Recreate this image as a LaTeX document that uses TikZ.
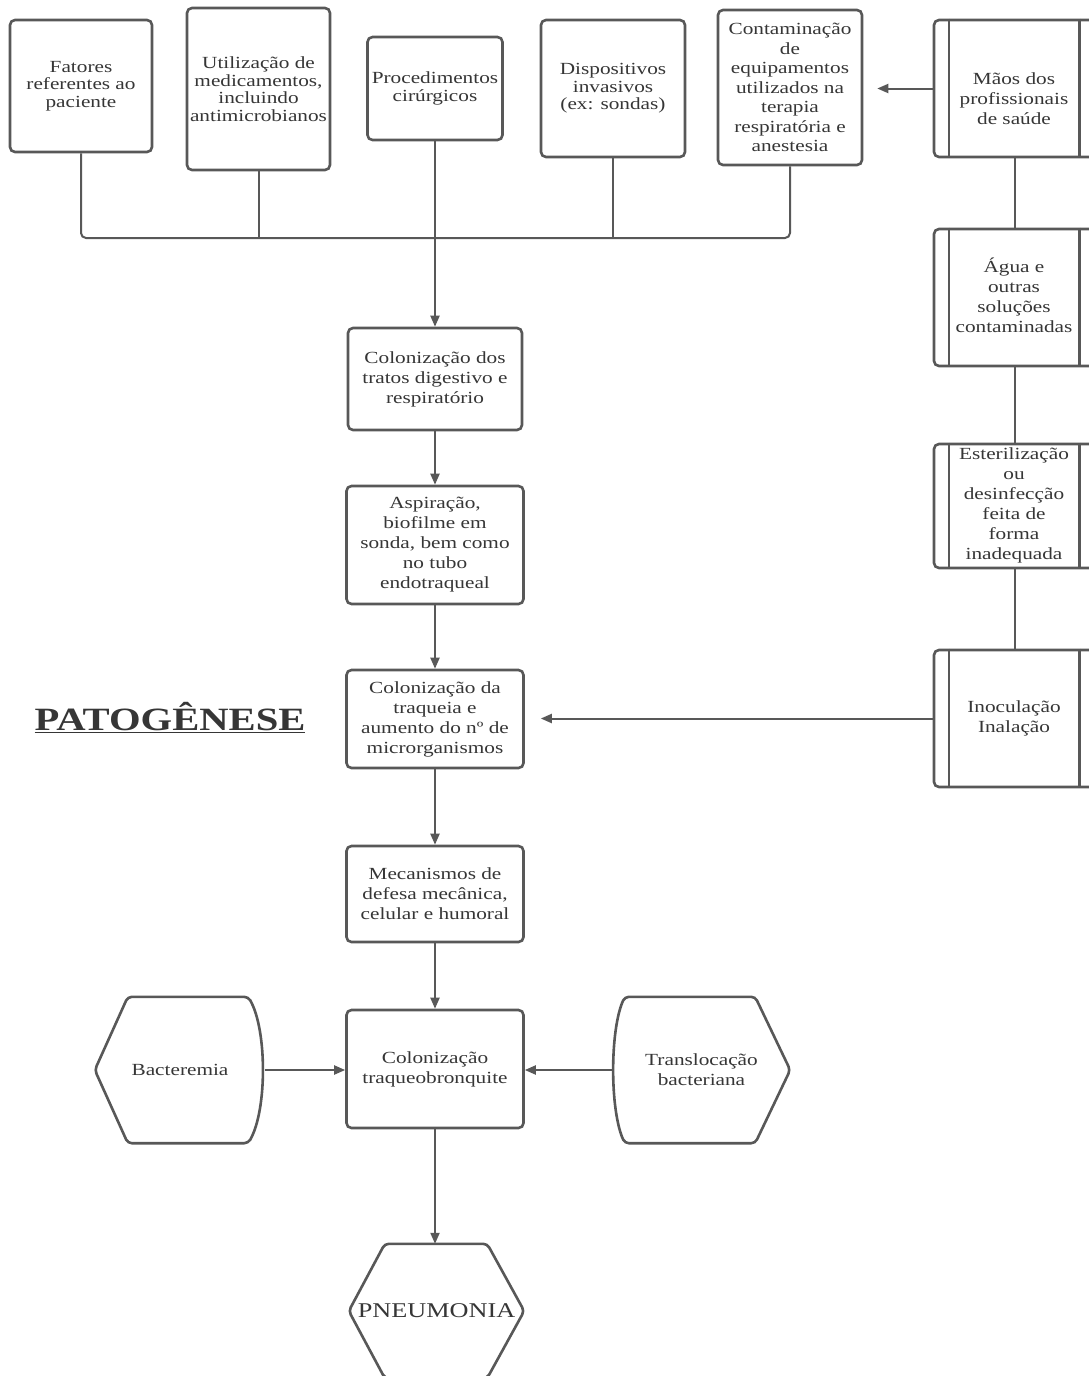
\documentclass[tikz,border=0pt]{standalone}
\usepackage{fontspec}
\setmainfont[FakeStretch=1.25]{Liberation Serif}
\usetikzlibrary{arrows.meta,calc}
\definecolor{linec}{HTML}{585858}
\definecolor{textc}{HTML}{363636}
\begin{document}
\begin{tikzpicture}[x=1pt,y=-1pt,
  box/.style={draw=linec, line width=2.6pt, rounded corners=5pt, fill=white,
    align=center, text=textc, font=\fontsize{17}{20}\selectfont, inner sep=0pt},
  topbox/.style={box, font=\fontsize{17}{17.5}\selectfont},
  ghost/.style={align=center, text=textc, font=\fontsize{17}{20}\selectfont, inner sep=0pt},
  conn/.style={draw=linec, line width=2pt},
  arr/.style={conn, -{Triangle[length=11pt,width=9pt]}},
  shapeline/.style={draw=linec, line width=2.6pt, rounded corners=4pt}
]
\useasboundingbox[fill=white] (0,0) rectangle (1089,1376);

% top row
\node[topbox, minimum width=142, minimum height=132] (fat) at (81,86) {Fatores\\referentes ao\\paciente};
\node[topbox, minimum width=143, minimum height=162] (uti) at (258.5,89) {Utilização de\\medicamentos,\\incluindo\\antimicrobianos};
\node[topbox, minimum width=135, minimum height=103] (pro) at (435,88.5) {Procedimentos\\cirúrgicos};
\node[topbox, minimum width=144, minimum height=137] (dis) at (613,88.5) {Dispositivos\\invasivos\\(ex: sondas)};
\node[topbox, minimum width=144, minimum height=155, font=\fontsize{17}{19.5}\selectfont] (con) at (790,87.5) {Contaminação\\de\\equipamentos\\utilizados na\\terapia\\respiratória e\\anestesia};

% right column (predefined process boxes)
\foreach \nm/\cy/\h in {maos/88.5/137, agua/297.5/137, est/506/124, ino/718.5/137}{
  \node[draw=linec, line width=2.6pt, rounded corners=5pt, minimum width=161, minimum height=\h, inner sep=0pt] (\nm) at (1014.5,\cy) {};
  \draw[conn, line width=2.4pt] ($(\nm.north west)+(16,0)$) -- ($(\nm.south west)+(16,0)$);
  \draw[conn, line width=2.4pt] ($(\nm.north east)+(-17,0)$) -- ($(\nm.south east)+(-17,0)$);
}
\node[ghost] (maost) at (1014,99) {Mãos dos\\profissionais\\de saúde};
\node[ghost] (aguat) at (1014,295) {Água e\\outras\\soluções\\contaminadas};
\node[ghost] (estt) at (1014,505) {Esterilização\\ou\\desinfecção\\feita de\\forma\\inadequada};
\node[ghost] (inot) at (1014,718) {Inoculação\\Inalação};

% center column
\node[box, minimum width=174, minimum height=102] (col1) at (435,379) {Colonização dos\\tratos digestivo e\\respiratório};
\node[box, minimum width=177, minimum height=118] (asp) at (435,545) {Aspiração,\\biofilme em\\sonda, bem como\\no tubo\\endotraqueal};
\node[box, minimum width=177, minimum height=98] (col2) at (435,719) {Colonização da\\traqueia e\\aumento do nº de\\microrganismos};
\node[box, minimum width=177, minimum height=96] (mec) at (435,894) {Mecanismos de\\defesa mecânica,\\celular e humoral};
\node[box, minimum width=177, minimum height=118] (col3) at (435,1069) {Colonização\\traqueobronquite};

% hexagon-like shapes
\node[ghost, minimum width=170, minimum height=146] (bac) at (180,1070) {Bacteremia};
\draw[shapeline] (bac.west) -- ($(bac.north west)+(33,0)$) -- ($(bac.north east)+(-17,0)$)
  .. controls ($(bac.north east)+(2,33)$) and ($(bac.south east)+(2,-33)$) .. ($(bac.south east)+(-17,0)$)
  -- ($(bac.south west)+(33,0)$) -- cycle;

\node[ghost, minimum width=177, minimum height=146] (tra) at (701.5,1070) {Translocação\\bacteriana};
\draw[shapeline] (tra.east) -- ($(tra.north east)+(-35,0)$) -- ($(tra.north west)+(12,0)$)
  .. controls ($(tra.north west)+(-3,33)$) and ($(tra.south west)+(-3,-33)$) .. ($(tra.south west)+(12,0)$)
  -- ($(tra.south east)+(-35,0)$) -- cycle;

\node[ghost, minimum width=175, minimum height=134, font=\fontsize{21}{21}\selectfont] (pneu) at (436.5,1311) {PNEUMONIA};
\draw[shapeline] (pneu.west) -- ($(pneu.north west)+(36,0)$) -- ($(pneu.north east)+(-37,0)$)
  -- (pneu.east) -- ($(pneu.south east)+(-37,0)$) -- ($(pneu.south west)+(36,0)$) -- cycle;

% title
\node[inner sep=0pt, text=textc, font=\fontsize{32.5}{32.5}\selectfont\bfseries] (title) at (170,718) {\underline{PATOGÊNESE}};

% bus connectors
\coordinate (bus) at (0,238);
\draw[conn, rounded corners=5pt] (fat.south) -- (fat.south |- bus) -- (con.south |- bus) -- (con.south);
\draw[conn] (uti.south) -- (uti.south |- bus);
\draw[conn] (dis.south) -- (dis.south |- bus);
\draw[arr] (pro.south) -- (col1.north);

% center arrows
\draw[arr] (col1.south) -- (asp.north);
\draw[arr] (asp.south) -- (col2.north);
\draw[arr] (col2.south) -- (mec.north);
\draw[arr] (mec.south) -- (col3.north);
\draw[arr] (col3.south) -- (col3.south |- pneu.north);
\draw[arr] (bac.east) -- (bac.east -| col3.west);
\draw[arr] (tra.west) -- (tra.west -| col3.east);

% right column connectors
\draw[conn] (maos.south) -- (agua.north);
\draw[conn] (agua.south) -- (est.north);
\draw[conn] (est.south) -- (ino.north);
\draw[arr, shorten >=14pt] (maos.west) -- (maos.west -| con.east);
\draw[arr, shorten >=16pt] (ino.west) -- (ino.west -| col2.east);
\end{tikzpicture}
\end{document}
